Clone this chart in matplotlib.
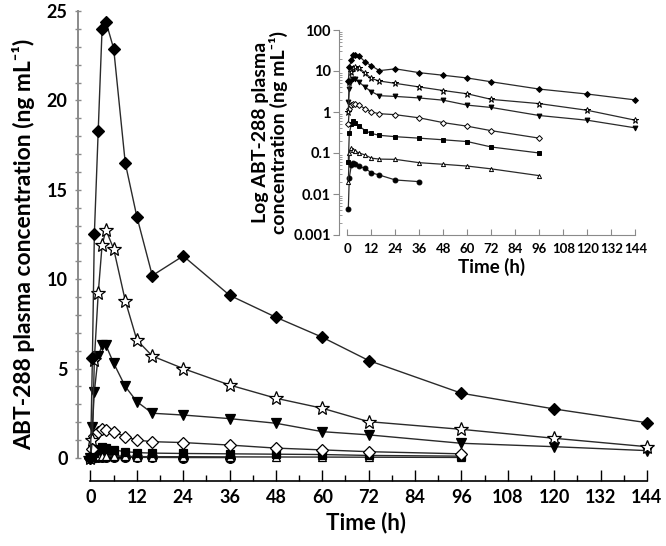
import matplotlib
matplotlib.use("Agg")
import matplotlib.pyplot as plt
import numpy as np
from matplotlib.ticker import MultipleLocator, LogLocator, NullFormatter, FixedLocator

plt.rcParams["font.family"] = ["Lato", "DejaVu Sans"]
plt.rcParams["font.weight"] = "bold"

# sampling times (h)
t_long = [0, 0.5, 1, 2, 3, 4, 6, 9, 12, 16, 24, 36, 48, 60, 72, 96, 120, 144]
t_mid = [0, 0.5, 1, 2, 3, 4, 6, 9, 12, 16, 24, 36, 48, 60, 72, 96]
t_short = [0, 0.5, 1, 2, 3, 4, 6, 9, 12, 16, 24, 36]

# mean plasma concentrations (ng/mL) per dose group, highest first
conc_diamond = [0, 5.6, 12.5, 18.3, 24.0, 24.4, 22.9, 16.5, 13.5, 10.2, 11.3,
                9.1, 7.87, 6.75, 5.45, 3.62, 2.74, 1.97]
conc_star = [0, 1.0, 5.5, 9.2, 11.9, 12.75, 11.7, 8.8, 6.6, 5.7, 5.0,
             4.08, 3.34, 2.78, 2.03, 1.6, 1.1, 0.63]
conc_tri_down = [0, 1.75, 3.7, 5.7, 6.3, 6.3, 5.3, 4.0, 3.15, 2.5, 2.4,
                 2.2, 1.94, 1.47, 1.29, 0.82, 0.63, 0.41]
conc_open_diamond = [0, 0.5, 1.2, 1.47, 1.6, 1.57, 1.47, 1.19, 1.0, 0.91, 0.86,
                     0.72, 0.55, 0.45, 0.35, 0.23]
conc_square = [0, 0.06, 0.3, 0.5, 0.6, 0.55, 0.45, 0.35, 0.3, 0.27, 0.25,
               0.23, 0.21, 0.19, 0.14, 0.1]
conc_open_tri = [0, 0.02, 0.1, 0.13, 0.12, 0.11, 0.1, 0.089, 0.075, 0.071, 0.07,
                 0.058, 0.053, 0.048, 0.041, 0.028]
conc_circle = [0, 0.0043, 0.025, 0.05, 0.058, 0.055, 0.047, 0.042, 0.033, 0.029,
               0.022, 0.02]

series = [
    (t_long, conc_diamond, "D", "black", 6),
    (t_long, conc_star, "*", "white", 10),
    (t_long, conc_tri_down, "v", "black", 7),
    (t_mid, conc_open_diamond, "D", "white", 6),
    (t_mid, conc_square, "s", "black", 6),
    (t_mid, conc_open_tri, "^", "white", 6),
    (t_short, conc_circle, "o", "black", 7),
]

line_col = "#2a2a2a"
axis_grey = "#8a8a8a"

fig = plt.figure(figsize=(6.66, 5.46), dpi=100)

# ---- main linear panel
ax = fig.add_axes([78 / 666, 1 - 481 / 546, (655 - 78) / 666, (481 - 8) / 546])
for t, c, m, fc, ms in series[::-1]:
    ax.plot(t, c, color=line_col, lw=1.0, marker=m, ms=ms, mfc=fc,
            mec="black", mew=0.9, clip_on=False)
ax.set_xlim(-3.23, 146.1)
ax.set_ylim(-1.29, 25.17)
for s in ("top", "right"):
    ax.spines[s].set_visible(False)
ax.spines["left"].set_bounds(0, 25)
ax.spines["left"].set_color(axis_grey)
ax.spines["left"].set_linewidth(1.4)
ax.spines["bottom"].set_bounds(0, 144)
ax.spines["bottom"].set_linewidth(1.2)
ax.xaxis.set_major_locator(MultipleLocator(12))
ax.xaxis.set_minor_locator(MultipleLocator(6))
ax.yaxis.set_major_locator(FixedLocator(range(0, 26, 5)))
ax.yaxis.set_minor_locator(FixedLocator(range(0, 26)))
ax.tick_params(axis="x", which="major", direction="in", length=8, width=1,
               labelsize=13, pad=6)
ax.tick_params(axis="x", which="minor", direction="in", length=4, width=1)
ax.tick_params(axis="y", which="major", direction="inout", length=5, width=1,
               color=axis_grey, labelsize=13, pad=5)
ax.tick_params(axis="y", which="minor", direction="inout", length=4, width=1,
               color=axis_grey)
ax.set_xlabel("Time (h)", fontsize=16, fontweight="bold", labelpad=4)
ax.set_ylabel("ABT-288 plasma concentration (ng mL⁻¹)",
              fontsize=16.5, fontweight="bold", labelpad=8)

# ---- inset log panel
ins = fig.add_axes([339 / 666, 1 - 235 / 546, (645 - 339) / 666, (235 - 30) / 546])
for t, c, m, fc, ms in series[::-1]:
    tt = [a for a, b in zip(t, c) if b > 0]
    cc = [b for b in c if b > 0]
    ins.plot(tt, cc, color=line_col, lw=0.9, marker=m, ms=ms * 0.5, mfc=fc,
             mec="black", mew=0.7)
ins.set_yscale("log")
ins.set_ylim(0.001, 100)
ins.set_xlim(-4.15, 148.8)
for s in ("top", "right"):
    ins.spines[s].set_visible(False)
ins.spines["bottom"].set_bounds(0, 144)
ins.spines["left"].set_color(axis_grey)
ins.spines["bottom"].set_color(axis_grey)
ins.xaxis.set_major_locator(MultipleLocator(12))
ins.yaxis.set_major_locator(FixedLocator([0.001, 0.01, 0.1, 1, 10, 100]))
ins.yaxis.set_minor_locator(LogLocator(base=10, subs=np.arange(2, 10)))
ins.yaxis.set_minor_formatter(NullFormatter())
ins.set_yticklabels(["0.001", "0.01", "0.1", "1", "10", "100"])
ins.tick_params(axis="x", which="major", direction="in", length=4, width=0.8,
                color=axis_grey, labelsize=9.5, pad=6)
ins.tick_params(axis="y", which="major", direction="out", length=4, width=0.8,
                color=axis_grey, labelsize=10.5, pad=2)
ins.tick_params(axis="y", which="minor", direction="in", length=2.5, width=0.6,
                color=axis_grey)
ins.set_xlabel("Time (h)", fontsize=13.5, fontweight="bold", labelpad=2)
ins.set_ylabel("Log ABT-288 plasma\nconcentration (ng mL⁻¹)",
               fontsize=14, fontweight="bold", labelpad=4, linespacing=1.0)

fig.savefig("out.png", dpi=100)
